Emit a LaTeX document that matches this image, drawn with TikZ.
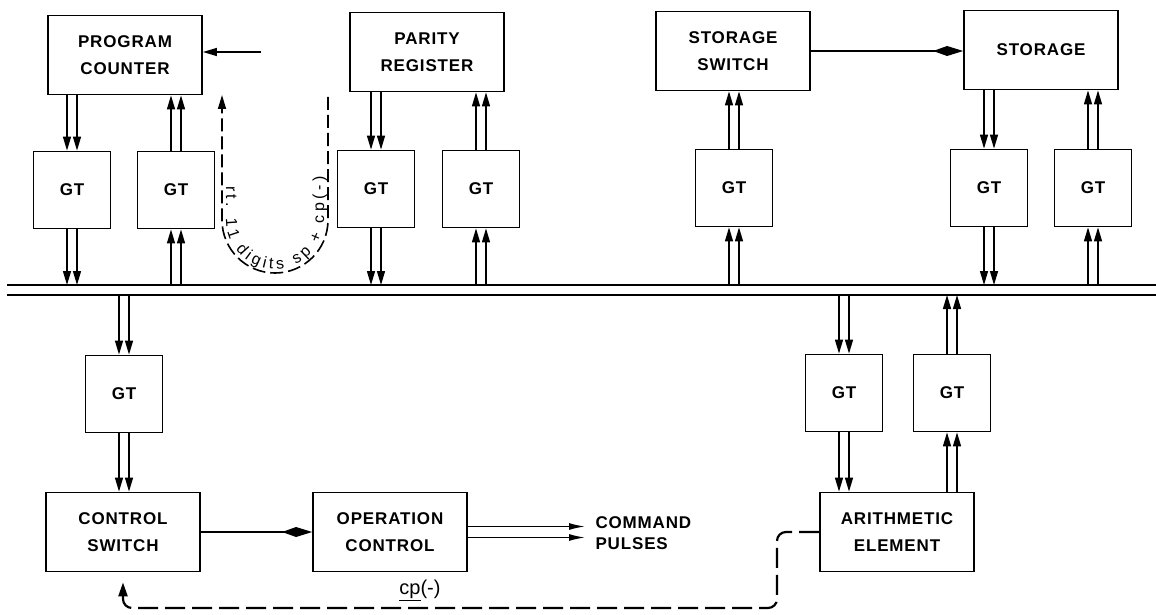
\documentclass[tikz,border=0pt]{standalone}
\usepackage{fontspec}
\setmainfont{Liberation Sans}
\newfontfamily\lbl[LetterSpace=5]{Liberation Sans}
\usetikzlibrary{arrows.meta,calc,decorations.text}
\newcommand{\pairline}[2]{%
  \draw[conn] ($(#1)+(-5,0)$) -- ($(#2)+(-5,0)$);
  \draw[conn] ($(#1)+(5,0)$) -- ($(#2)+(5,0)$);}
\begin{document}
\begin{tikzpicture}[x=1pt,y=-1pt,
  box/.style={draw,line width=1.8pt,minimum width=154pt,minimum height=79pt,inner sep=0pt,align=center,
    font=\lbl\bfseries\fontsize{17}{27}\selectfont},
  gt/.style={box,minimum width=77pt,minimum height=77pt},
  conn/.style={line width=1.4pt,-{Triangle[length=14pt,width=8pt]}},
  kite/.style={line width=1.4pt,-{Kite[length=30pt,width=10pt,inset=14pt]}},
  cmd/.style={line width=1.4pt,-{Latex[length=16pt,width=7pt]}},
  bus/.style={line width=1.8pt},
  dashU/.style={line width=1.6pt,dash pattern=on 13pt off 5pt,-{Triangle[length=14pt,width=8pt]}},
  dashB/.style={line width=2.2pt,dash pattern=on 20pt off 7pt,rounded corners=9pt,-{Triangle[length=14pt,width=9pt]}},
  lbltext/.style={font=\lbl\bfseries\fontsize{17}{21}\selectfont}
]
\useasboundingbox (0,0) rectangle (1156,615);

% bus
\coordinate (busTL) at (7,285);  \coordinate (busTR) at (1156,285);
\coordinate (busBL) at (7,295);  \coordinate (busBR) at (1156,295);
\coordinate (busT) at (0,285);   \coordinate (busB) at (0,295);
\draw[bus] (busTL) -- (busTR);
\draw[bus] (busBL) -- (busBR);

% main boxes
\node[box] (pc)  at (125,55)  {PROGRAM\\COUNTER};
\node[box] (par) at (427,52)  {PARITY\\REGISTER};
\node[box] (ssw) at (733,51)  {STORAGE\\SWITCH};
\node[box] (sto) at (1041,50) {STORAGE};
\node[box] (cs)  at (123,532) {CONTROL\\SWITCH};
\node[box] (oc)  at (390,532) {OPERATION\\CONTROL};
\node[box] (ar)  at (897,532) {ARITHMETIC\\ELEMENT};

% gates
\node[gt] (g1) at (72,190)   {GT};
\node[gt] (g2) at (176,190)  {GT};
\node[gt] (g3) at (376,189)  {GT};
\node[gt] (g4) at (481,189)  {GT};
\node[gt] (g5) at (734,188)  {GT};
\node[gt] (g6) at (989,188)  {GT};
\node[gt] (g7) at (1093,188) {GT};
\node[gt] (gc) at (124,394)  {GT};
\node[gt] (ga1) at (844,393) {GT};
\node[gt] (ga2) at (952,393) {GT};

% double connectors
\pairline{g1.north |- pc.south}{g1.north}
\pairline{g1.south}{g1.south |- busT}
\pairline{g2.south |- busT}{g2.south}
\pairline{g2.north}{g2.north |- pc.south}
\pairline{g3.north |- par.south}{g3.north}
\pairline{g3.south}{g3.south |- busT}
\pairline{g4.south |- busT}{g4.south}
\pairline{g4.north}{g4.north |- par.south}
\pairline{g5.south |- busT}{g5.south}
\pairline{g5.north}{g5.north |- ssw.south}
\pairline{g6.north |- sto.south}{g6.north}
\pairline{g6.south}{g6.south |- busT}
\pairline{g7.south |- busT}{g7.south}
\pairline{g7.north}{g7.north |- sto.south}
\pairline{gc.north |- busB}{gc.north}
\pairline{gc.south}{gc.south |- cs.north}
\pairline{ga1.north |- busB}{ga1.north}
\pairline{ga1.south}{ga1.south |- ar.north}
\pairline{ga2.south |- ar.north}{ga2.south}
\pairline{ga2.north}{ga2.north |- busB}

% single connectors
\coordinate (pcin) at (261,52);
\draw[conn] (pcin) -- (pcin -| pc.east);
\draw[kite] (ssw.east) -- (ssw.east -| sto.west);
\draw[kite] (cs.east) -- (oc.west);

\coordinate (cmdend) at (585,532);
\draw[cmd] ($(oc.east)+(0,-5.5)$) -- ($(cmdend)+(0,-5.5)$);
\draw[cmd] ($(oc.east)+(0,5.5)$) -- ($(cmdend)+(0,5.5)$);
\node[lbltext,anchor=west,align=left] (cmdtxt) at (592,533) {COMMAND\\PULSES};

% dashed U feedback
\coordinate (uR) at (328,97);
\coordinate (uL) at (222,95);
\draw[dashU] (uR) -- (328,220) arc[start angle=0,end angle=180,radius=53] -- (uL);
\path[decorate,decoration={text along path,
   text={|\fontsize{16}{16}\selectfont|rt. 11 digits sp + cp(-)},
   text align={fit to path}}]
   (226,186) -- (226,220) arc[start angle=180,end angle=0,radius=49] -- (324,176);

% dashed bottom feedback
\coordinate (dc1) at (777,608);
\draw[dashB] (ar.west) -| (dc1) -| ($(cs.south)+(0,10)$);
\node[font=\fontsize{20}{20}\selectfont] (cpl) at (420,590) {\underline{cp}(-)};
\end{tikzpicture}
\end{document}
